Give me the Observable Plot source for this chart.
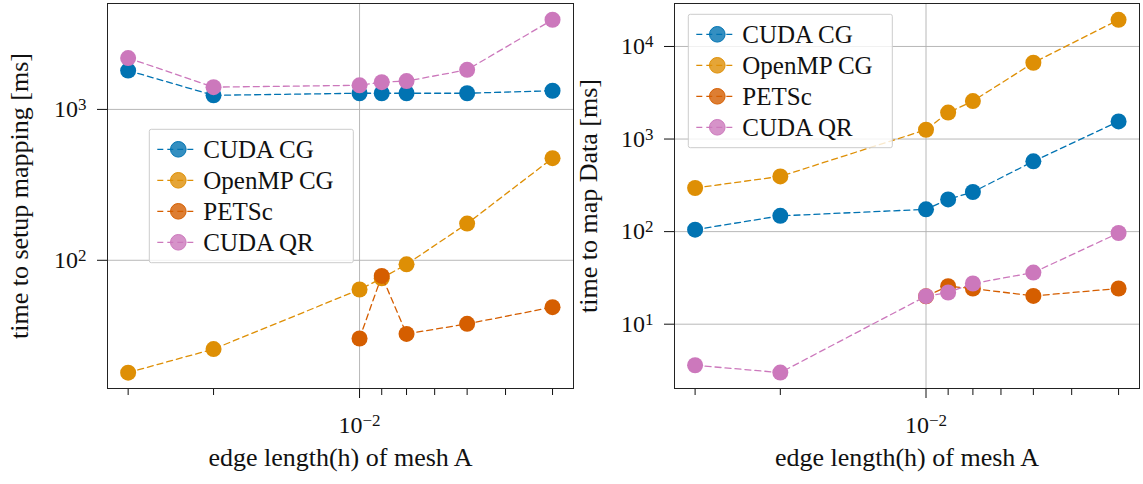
<!DOCTYPE html>
<html><head><meta charset="utf-8">
<script src="https://cdn.jsdelivr.net/npm/d3@7"></script>
<script src="https://cdn.jsdelivr.net/npm/@observablehq/plot@0.6"></script>
<style>
body{margin:0;background:#fff;}
#wrap{position:relative;width:1143px;height:484px;overflow:hidden;background:#fff;}
#wrap svg{position:absolute;top:0;overflow:visible;}
</style></head><body><div id="wrap"></div>
<script>
// ---- data ----
const h = [0.03, 0.02, 0.01, 0.009, 0.008, 0.006, 0.004];
const seriesNames = ["CUDA CG", "OpenMP CG", "PETSc", "CUDA QR"];
const seriesColors = ["#0173b2", "#de8f05", "#d55e00", "#cc78bc"];

// time to setup mapping [ms]
const setupCudaCG = [1810, 1240, 1280, 1280, 1280, 1280, 1330];
const setupOpenMP = [18.0, 25.8, 64, 76, 94, 175, 475];
const setupPETSc  = [null, null, 30.3, 78.8, 32.5, 37.9, 48.9];
const setupCudaQR = [2190, 1405, 1445, 1515, 1540, 1830, 3930];

// time to map Data [ms]
const mapCudaCG = [105, 148, 174, 223, 268, 574, 1550];
const mapOpenMP = [296, 395, 1260, 1930, 2570, 6670, 19400];
const mapPETSc  = [null, null, 20, 25.7, 24.3, 20.2, 24.3];
const mapCudaQR = [3.6, 3.0, 20.1, 22.0, 27.5, 36.1, 96.6];

// ticks and labels
const xMajorTicks = [0.01];
const xMinorTicks = [0.03, 0.02, 0.009, 0.008, 0.007, 0.006, 0.005, 0.004];
const yTicksSetup = [100, 1000];
const yTicksMap = [10, 100, 1000, 10000];
const xLabel = "edge length(h) of mesh A";
const yLabelSetup = "time to setup mapping [ms]";
const yLabelMap = "time to map Data [ms]";

const FONT = "'Liberation Serif', 'Times New Roman', 'DejaVu Serif', serif";
const expLabel = d => "10^" + String(Math.round(Math.log10(d))).replace("-", "\u2212");

function panel({series, yDomain, yTicks, yLabel, width, marginLeft, marginRight, left, legendX, legendY, yLabelDx}) {
  const marks = [
    Plot.gridX(xMajorTicks, {stroke: "#b0b0b0", strokeOpacity: 1, strokeWidth: 0.9}),
    Plot.gridY(yTicks, {stroke: "#b0b0b0", strokeOpacity: 1, strokeWidth: 0.9}),
    Plot.axisX(xMinorTicks, {tickSize: 7, tickFormat: () => "", label: null, strokeWidth: 1}),
    Plot.axisX(xMajorTicks, {tickSize: 10, tickFormat: () => "", label: null, strokeWidth: 1}),
    Plot.axisY(yTicks, {tickSize: 10, tickFormat: () => "", label: null, strokeWidth: 1}),
    Plot.text(xMajorTicks, {x: d => d, frameAnchor: "bottom", dy: 36.7, text: expLabel, fontSize: 24,
      textAnchor: "middle", lineAnchor: "middle"}),
    Plot.text(yTicks, {y: d => d, frameAnchor: "left", dx: -21, text: expLabel, fontSize: 24,
      textAnchor: "end", lineAnchor: "middle"})
  ];
  series.forEach((vals, i) => {
    const data = h.map((x, j) => ({x, y: vals[j]}));
    const defined = data.filter(d => d.y != null);
    marks.push(Plot.line(defined, {x: "x", y: "y", stroke: seriesColors[i], strokeWidth: 1.3, strokeDasharray: "6,4"}));
    marks.push(Plot.dot(defined, {x: "x", y: "y", r: 8, fill: seriesColors[i], stroke: "none"}));
  });
  marks.push(Plot.frame({stroke: "#222", strokeWidth: 1}));
  marks.push(Plot.text([xLabel], {text: d => d, frameAnchor: "bottom", dy: 69.5, fontSize: 26,
    textAnchor: "middle", lineAnchor: "middle"}));
  marks.push(Plot.text([yLabel], {text: d => d, frameAnchor: "left", dx: yLabelDx, rotate: -90, fontSize: 26,
    textAnchor: "middle", lineAnchor: "middle"}));

  const svg = Plot.plot({
    width, height: 484,
    marginLeft, marginRight, marginTop: 3, marginBottom: 96,
    style: {fontFamily: FONT, color: "#111", background: "transparent", overflow: "visible"},
    x: {type: "log", domain: [0.003621, 0.03309], reverse: true, axis: null},
    y: {type: "log", domain: yDomain, axis: null},
    marks
  });
  svg.style.left = left + "px";

  // superscripts
  svg.querySelectorAll("text").forEach(t => {
    const s = t.textContent;
    const m = /^10\^(.+)$/.exec(s);
    if (m) {
      while (t.firstChild) t.removeChild(t.firstChild);
      t.appendChild(document.createTextNode("10"));
      const sp = document.createElementNS("http://www.w3.org/2000/svg", "tspan");
      sp.setAttribute("dy", "-7");
      sp.setAttribute("font-size", "17");
      sp.textContent = m[1];
      t.appendChild(sp);
    }
  });

  // legend
  const g = d3.select(svg).append("g").attr("transform", `translate(${legendX},${legendY})`);
  g.append("rect").attr("width", 204).attr("height", 133.4).attr("rx", 2)
    .attr("fill", "#fff").attr("fill-opacity", 0.8).attr("stroke", "#cccccc").attr("stroke-width", 1);
  seriesNames.forEach((name, i) => {
    const cy = 20 + i * 31;
    g.append("line").attr("x1", 8).attr("x2", 44).attr("y1", cy).attr("y2", cy)
      .attr("stroke", seriesColors[i]).attr("stroke-width", 1.3).attr("stroke-dasharray", "6,4");
    g.append("circle").attr("cx", 29).attr("cy", cy).attr("r", 7.8)
      .attr("fill", seriesColors[i]).attr("fill-opacity", 0.8)
      .attr("stroke", seriesColors[i]).attr("stroke-width", 1);
    g.append("text").attr("x", 54).attr("y", cy + 8.4).attr("font-size", 25)
      .attr("text-anchor", "start")
      .attr("font-family", FONT).attr("fill", "#111").text(name);
  });
  return svg;
}

const wrap = document.getElementById("wrap");
wrap.appendChild(panel({
  series: [setupCudaCG, setupOpenMP, setupPETSc, setupCudaQR],
  yDomain: [14.13, 5035], yTicks: yTicksSetup, yLabel: yLabelSetup,
  width: 580, marginLeft: 107, marginRight: 7, left: 0,
  legendX: 149.3, legendY: 129.3, yLabelDx: -88
}));
wrap.appendChild(panel({
  series: [mapCudaCG, mapOpenMP, mapPETSc, mapCudaQR],
  yDomain: [2.02, 29120], yTicks: yTicksMap, yLabel: yLabelMap,
  width: 563, marginLeft: 94, marginRight: 4, left: 580,
  legendX: 108.3, legendY: 14.3, yLabelDx: -86
}));
</script></body></html>
